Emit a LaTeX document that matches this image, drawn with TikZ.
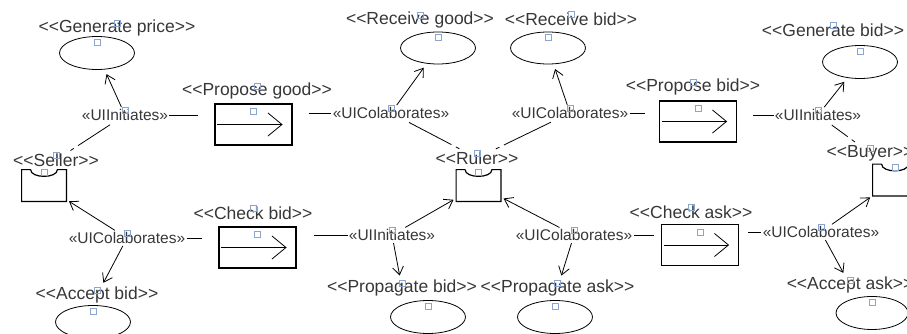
\documentclass[tikz,border=0pt]{standalone}
\usepackage{fontspec}
\newfontfamily\uifont{Liberation Sans}[Ligatures=TeXOff]
\usetikzlibrary{arrows.meta,shapes.geometric}
\definecolor{handleblue}{RGB}{140,165,205}
\definecolor{labelgray}{RGB}{55,55,55}

\begin{document}
\begin{tikzpicture}[x=1pt, y=-1pt, line width=0.8pt,
      lbl/.style={font=\uifont\fontsize{17.5}{19}\selectfont, text=labelgray, inner sep=1pt},
      stereo/.style={font=\uifont\fontsize{15.5}{17}\selectfont, text=labelgray, inner sep=1pt},
      usecase/.style={draw, ellipse, minimum width=75pt, minimum height=33pt, inner sep=0pt},
      action/.style={draw, rectangle, line width=1.2pt, minimum width=77pt, minimum height=41pt, inner sep=0pt},
      actorbox/.style={rectangle, minimum width=44pt, minimum height=31pt, inner sep=0pt},
      link/.style={-{Straight Barb[length=8pt,width=11pt]}, shorten <=1pt, shorten >=5pt},
      assoc/.style={dash pattern=on 4pt off 5pt on 400pt, shorten <=3pt, shorten >=5pt},
      handle/.style={draw=handleblue, line width=0.6pt}]
    \useasboundingbox (0,0) rectangle (907,334);
    \clip (0,0) rectangle (907,334);

    \node[lbl] (gpL) at (117,28) {<<Generate price>>};
    \node[usecase] (gp) at (97,53) {};
    \node[lbl] (pgL) at (257,91) {<<Propose good>>};
    \node[action] (pg) at (253.5,124.5) {};
    \node[lbl] (rgL) at (420,20) {<<Receive good>>};
    \node[usecase, minimum height=32pt] (rg) at (438,48) {};
    \node[lbl] (rbL) at (571,19) {<<Receive bid>>};
    \node[usecase, minimum height=32pt] (rb) at (548,48) {};
    \node[lbl] (gbL) at (833,30) {<<Generate bid>>};
    \node[usecase] (gb) at (860,62) {};
    \node[lbl] (pbL) at (693,87) {<<Propose bid>>};
    \node[action] (pb) at (698,121.5) {};
    \node[lbl] (sellerL) at (56,160) {<<Seller>>};
    \node[actorbox] (seller) at (44,185.5) {};
    \node[lbl] (rulerL) at (477,158) {<<Ruler>>};
    \node[actorbox] (ruler) at (478.5,185.5) {};
    \node[lbl] (buyerL) at (870,153) {<<Buyer>>};
    \node[actorbox] (buyer) at (895,180) {};
    \node[lbl] (cbL) at (253,213) {<<Check bid>>};
    \node[action] (cb) at (257.5,247.5) {};
    \node[lbl] (caL) at (691,212) {<<Check ask>>};
    \node[action] (ca) at (700,245) {};
    \node[lbl] (abL) at (97,295) {<<Accept bid>>};
    \node[usecase] (ab) at (93,322) {};
    \node[lbl] (pbdL) at (402,288) {<<Propagate bid>>};
    \node[usecase] (pbd) at (428,317) {};
    \node[lbl] (paL) at (557.5,288) {<<Propagate ask>>};
    \node[usecase] (pa) at (555,317) {};
    \node[lbl] (aaL) at (850,285) {<<Accept ask>>};
    \node[usecase, minimum width=72pt] (aa) at (872,313) {};

    \node[stereo] (s1) at (125,115) {«UIInitiates»};
    \node[stereo] (s2) at (391,113) {«UIColaborates»};
    \node[stereo] (s3) at (570,113) {«UIColaborates»};
    \node[stereo] (s4) at (818,115) {«UIInitiates»};
    \node[stereo] (s5) at (127,238) {«UIColaborates»};
    \node[stereo] (s6) at (392,235) {«UIInitiates»};
    \node[stereo] (s7) at (574,235) {«UIColaborates»};
    \node[stereo] (s8) at (821,232) {«UIColaborates»};

    \foreach \a in {seller,ruler,buyer}
      \draw[line width=1.2pt] ([xshift=9pt]\a.north west) -- (\a.north west) -- (\a.south west)
        -- (\a.south east) -- (\a.north east) -- ([xshift=-9pt]\a.north east)
        .. controls +(0pt,-9pt) and +(0pt,-9pt) .. ([xshift=9pt]\a.north west);
    \foreach \b in {pg,pb,cb,ca}
      \draw[-{Straight Barb[length=14pt,width=23pt]}] ([xshift=3pt]\b.west) -- ([xshift=-10pt]\b.east);

    \draw[shorten >=16pt] (s1.east) -- (s1.east -| pg.west);
    \draw[shorten <=16pt] (s2.west -| pg.east) -- (s2.west);
    \draw[shorten >=14pt] (s3.east) -- (s3.east -| pb.west);
    \draw[shorten <=16pt] (s4.west -| pb.east) -- (s4.west);
    \draw[shorten >=16pt] (s5.east) -- (s5.east -| cb.west);
    \draw[shorten <=17pt] (s6.west -| cb.east) -- (s6.west);
    \draw[shorten >=7pt] (s7.east) -- (s7.east -| ca.west);
    \draw[shorten <=9pt] (s8.west -| ca.east) -- (s8.west);

    \draw[link] (s1) -- (gp);
    \draw[link] (s2) -- (rg);
    \draw[link] (s3) -- (rb);
    \draw[link] (s4) -- (gb);
    \draw[link, shorten >=3pt] (s5) -- (seller);
    \draw[link, shorten >=3pt] (s5) -- (abL);
    \draw[link, shorten >=3pt] (s6) -- (ruler);
    \draw[link, shorten >=3pt] (s6) -- (pbdL);
    \draw[link, shorten >=3pt] (s7) -- (ruler);
    \draw[link, shorten >=3pt] (s7) -- (paL);
    \draw[link, shorten >=3pt] (s8) -- (buyer);
    \draw[link, shorten >=3pt] (s8) -- (aaL);

    \draw[assoc] (sellerL) -- (s1);
    \draw[assoc] (rulerL) -- (s2);
    \draw[assoc] (rulerL) -- (s3);
    \draw[assoc] (buyerL) -- (s4);

    \foreach \n in {gpL,pgL,rgL,rbL,gbL,pbL,sellerL,rulerL,buyerL,cbL,caL,abL,pbdL,paL,aaL,s1,s2,s3,s4,s5,s6,s7,s8}
      \draw[handle] ([shift={(-3pt,2pt)}]\n.center) rectangle ++(6pt,6pt);
    \foreach \n in {gp,rg,rb,gb,ab,pbd,pa,aa}
      \draw[handle] ([shift={(-3pt,-9pt)}]\n.north) rectangle ++(6pt,6pt);
    \foreach \n in {pg,pb,cb,ca}
      \draw[handle] ([shift={(-3pt,-11pt)}]\n.north) rectangle ++(6pt,6pt);
    \foreach \n in {seller,ruler,buyer}
      \draw[handle] ([shift={(-3pt,-6pt)}]\n.north) rectangle ++(6pt,6pt);
\end{tikzpicture}
\end{document}
